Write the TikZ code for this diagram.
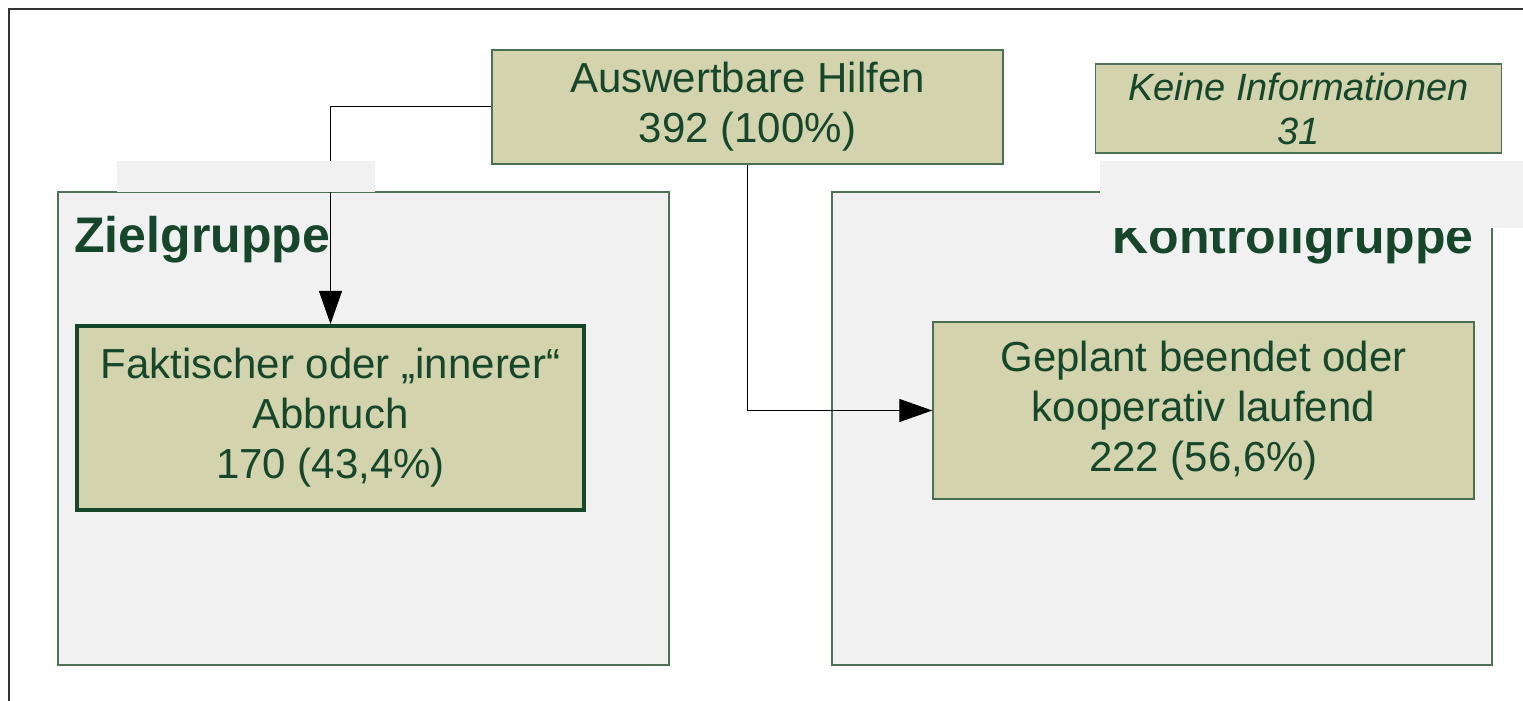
\documentclass[tikz,border=0pt]{standalone}
\usepackage{fontspec}
\setmainfont{Liberation Sans}
\usetikzlibrary{arrows.meta}

\definecolor{panelfill}{HTML}{F1F1F1}
\definecolor{panelline}{HTML}{4F7257}
\definecolor{boxfill}{HTML}{D3D3AD}
\definecolor{boxline}{HTML}{4C7053}
\definecolor{txtgreen}{HTML}{17472B}

\tikzset{
  panel/.style={draw=panelline, fill=panelfill, line width=0.6pt, inner sep=0pt},
  box/.style={draw=boxline, fill=boxfill, line width=0.7pt, text=txtgreen, align=center, inner sep=0pt,
    font=\fontsize{21pt}{25pt}\selectfont},
  heavybox/.style={box, draw=txtgreen, line width=2pt},
  title/.style={text=txtgreen, inner sep=0pt, font=\fontsize{25pt}{30pt}\selectfont\bfseries},
  conn/.style={draw=black, line width=0.5pt, -{Triangle[length=16.5pt,width=11.5pt]}}
}

\begin{document}
\begin{tikzpicture}[x=0.5pt,y=-0.5pt]

\useasboundingbox (0,0) rectangle (1523,701);

\draw[line width=1pt,color=black!80] (9,701) -- (9,9) -- (1523,9);

%groups
\node[panel, minimum width=305.5pt, minimum height=236.5pt] at (363.5, 428.5) (ziel){};
\node[panel, minimum width=330pt, minimum height=236.5pt] at (1162, 428.5) (kontroll){};

\node[title, anchor=base west] at (74, 252.5) (zieltitle) {Zielgruppe};

%boxes
\node[box, minimum width=255.5pt, minimum height=57pt] at (747.5, 107) (hilfen)
  {Auswertbare Hilfen\\392 (100\%)};
\node[box, minimum width=202.75pt, minimum height=44.5pt,
  font=\fontsize{19pt}{22pt}\selectfont\itshape] at (1298.5, 108.5) (keine)
  {Keine Informationen\\31};
\node[heavybox, minimum width=253.5pt, minimum height=92pt] at (330.5, 418) (abbruch)
  {Faktischer oder „innerer“\\Abbruch\\170 (43,4\%)};
\node[box, minimum width=270.5pt, minimum height=88.5pt] at (1203.5, 410.5) (geplant)
  {Geplant beendet oder\\kooperativ laufend\\222 (56,6\%)};

%connectors
\draw[conn] (hilfen.west) -| (abbruch.north);
\draw[conn] (hilfen.south) |- (geplant.west);

\node[title, anchor=base east] at (1474, 254) (kontrolltitle) {Kontrollgruppe};

%title patches
\fill[panelfill] (117,161) rectangle (375,192);
\fill[panelfill] (1100,161) rectangle (1523,228);

\end{tikzpicture}
\end{document}
